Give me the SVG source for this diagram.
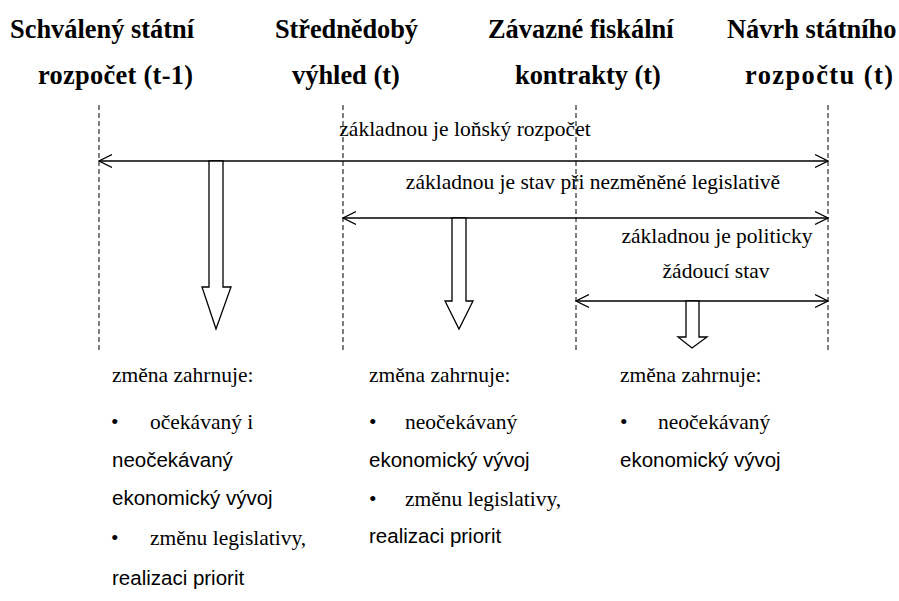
<svg xmlns="http://www.w3.org/2000/svg" width="899" height="601" viewBox="0 0 899 601">
<defs>
<style>
.h{font-weight:bold;font-size:26.4px;fill:#000}
.t{font-size:21.5px;fill:#000}
.s{font-size:20.5px;fill:#000}
.dash{stroke:#000;stroke-width:1;stroke-dasharray:5 3;fill:none}
.span{stroke:#000;stroke-width:1.3;fill:none}
.blk{fill:#fff;stroke:#000;stroke-width:1.3;stroke-linejoin:miter}
</style>
<marker id="v" viewBox="0 0 14 14" refX="13" refY="7" markerWidth="14" markerHeight="14" markerUnits="userSpaceOnUse" orient="auto-start-reverse">
<path d="M0,0.5 L13,7 L0,13.5" fill="none" stroke="#000" stroke-width="1.2"/>
</marker>
</defs>
<rect width="899" height="601" fill="#fff"/>

<g font-family="'Liberation Serif', 'DejaVu Serif', serif">
<g id="header1"><text class="h" x="10" y="38">Schválený státní</text><text class="h" x="38" y="84" textLength="155" lengthAdjust="spacing">rozpočet (t-1)</text></g>
<g id="header2"><text class="h" x="275" y="38" textLength="143" lengthAdjust="spacing">Střednědobý</text><text class="h" x="292" y="84">výhled (t)</text></g>
<g id="header3"><text class="h" x="488" y="38">Závazné fiskální</text><text class="h" x="515" y="84">kontrakty (t)</text></g>
<g id="header4"><text class="h" x="727" y="38">Návrh státního</text><text class="h" x="745" y="84" textLength="148" lengthAdjust="spacing">rozpočtu (t)</text></g>
</g>

<g id="timelines">
<line class="dash" x1="99" y1="105" x2="99" y2="352"/>
<line class="dash" x1="343" y1="105" x2="343" y2="352"/>
<line class="dash" x1="576" y1="105" x2="576" y2="352"/>
<line class="dash" x1="828" y1="105" x2="828" y2="352"/>
</g>

<g id="connectors">
<line class="span" x1="99" y1="161" x2="828" y2="161" marker-start="url(#v)" marker-end="url(#v)"/>
<line class="span" x1="343" y1="218" x2="828" y2="218" marker-start="url(#v)" marker-end="url(#v)"/>
<line class="span" x1="576" y1="301" x2="828" y2="301" marker-start="url(#v)" marker-end="url(#v)"/>
<polygon class="blk" points="209,161 223,161 223,287 231,287 216,329 202,287 209,287"/>
<polygon class="blk" points="452,218 466,218 466,301 473,301 459,329 445,301 452,301"/>
<polygon class="blk" points="686,301 699,301 699,337 707,337 692,348 678,337 686,337"/>
</g>

<g font-family="'Liberation Serif', 'DejaVu Serif', serif">
<g id="label1"><text class="t" x="465" y="136" text-anchor="middle">základnou je loňský rozpočet</text></g>
<g id="label2"><text class="t" x="593" y="189" text-anchor="middle">základnou je stav při nezměněné legislativě</text></g>
<g id="label3"><text class="t" x="717" y="243" text-anchor="middle">základnou je politicky</text><text class="t" x="716" y="278" text-anchor="middle">žádoucí stav</text></g>

<g id="change1">
<text class="t" x="112" y="382">změna zahrnuje:</text>
<text class="t" x="111" y="429">•</text><text class="t" x="150" y="429">očekávaný i</text>
<text class="s" font-family="'Liberation Sans', 'DejaVu Sans', sans-serif" x="112" y="467">neočekávaný</text>
<text class="s" font-family="'Liberation Sans', 'DejaVu Sans', sans-serif" x="112" y="505">ekonomický vývoj</text>
<text class="t" x="111" y="545">•</text><text class="t" x="150" y="545">změnu legislativy,</text>
<text class="s" font-family="'Liberation Sans', 'DejaVu Sans', sans-serif" x="112" y="585">realizaci priorit</text>
</g>
<g id="change2">
<text class="t" x="369" y="382">změna zahrnuje:</text>
<text class="t" x="369" y="429">•</text><text class="t" x="405" y="429">neočekávaný</text>
<text class="s" font-family="'Liberation Sans', 'DejaVu Sans', sans-serif" x="369" y="467">ekonomický vývoj</text>
<text class="t" x="369" y="506">•</text><text class="t" x="405" y="506">změnu legislativy,</text>
<text class="s" font-family="'Liberation Sans', 'DejaVu Sans', sans-serif" x="369" y="543">realizaci priorit</text>
</g>
<g id="change3">
<text class="t" x="620" y="382">změna zahrnuje:</text>
<text class="t" x="620" y="429">•</text><text class="t" x="658" y="429">neočekávaný</text>
<text class="s" font-family="'Liberation Sans', 'DejaVu Sans', sans-serif" x="620" y="467">ekonomický vývoj</text>
</g>
</g>
</svg>
